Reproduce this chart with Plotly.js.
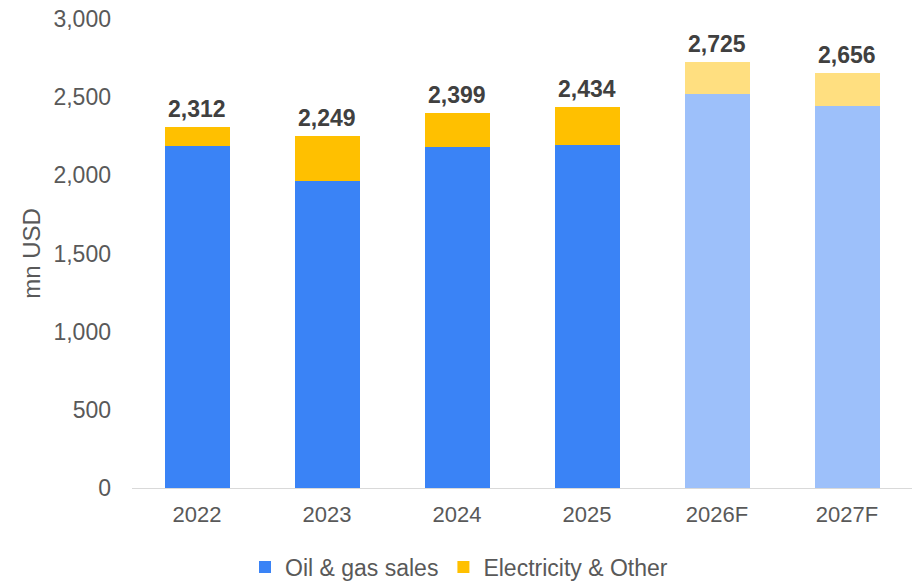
<!DOCTYPE html>
<html>
<head>
<meta charset="utf-8">
<script src="https://cdn.plot.ly/plotly-3.0.1.min.js"></script>
<style>html,body{margin:0;padding:0;background:#fff;}#chart{width:918px;height:581px;}</style>
</head>
<body>
<div id="chart"></div>
<script>
const categories = ["2022", "2023", "2024", "2025", "2026F", "2027F"];
const oilGas = [2190, 1963, 2183, 2193, 2521, 2446];
const electricity = [122, 286, 216, 241, 204, 210];
const totals = [2312, 2249, 2399, 2434, 2725, 2656];
const isForecast = [false, false, false, false, true, true];
const yTicks = [0, 500, 1000, 1500, 2000, 2500, 3000];

const blue = "#3A83F6", blueLight = "#9DC0FA";
const yellow = "#FFC000", yellowLight = "#FFDF80";

const font = "Liberation Sans, Arial, sans-serif";

const traces = [
  {
    type: "bar", name: "Oil & gas sales", x: categories, y: oilGas,
    marker: {color: isForecast.map(f => f ? blueLight : blue)},
    hoverinfo: "x+y+name"
  },
  {
    type: "bar", name: "Electricity & Other", x: categories, y: electricity,
    marker: {color: isForecast.map(f => f ? yellowLight : yellow)},
    hoverinfo: "x+y+name"
  }
];

// category axis: annotations positioned by category index
const annotations = categories.map((c, i) => ({
  x: i, y: totals[i], xref: "x", yref: "y",
  text: totals[i].toLocaleString("en-US"),
  showarrow: false, yanchor: "bottom", yshift: 3,
  font: {family: font, size: 23, color: "#404040", weight: "bold"}
}));

const layout = {
  width: 918, height: 581,
  paper_bgcolor: "#fff", plot_bgcolor: "#fff",
  margin: {l: 132, r: 6, t: 19, b: 93},
  barmode: "stack", bargap: 0.5,
  font: {family: font, color: "#595959", size: 22},
  showlegend: true,
  legend: {
    orientation: "h", xref: "container", x: 0.5, xanchor: "center",
    yref: "container", y: 0.024, yanchor: "middle",
    font: {family: font, size: 23, color: "#595959"},
    traceorder: "normal", itemwidth: 30
  },
  annotations: annotations,
  xaxis: {
    type: "category", categoryorder: "array", categoryarray: categories,
    range: [-0.5, categories.length - 0.5],
    showgrid: false, zeroline: false,
    showline: true, linecolor: "#D9D9D9", linewidth: 1,
    ticks: "", ticklabelstandoff: 7,
    tickfont: {family: font, size: 22, color: "#595959"}
  },
  yaxis: {
    range: [0, 3000], tickvals: yTicks,
    tickformat: ",d", showgrid: false, zeroline: false, showline: false,
    ticks: "", ticklabelstandoff: 20,
    tickfont: {family: font, size: 23, color: "#595959"},
    title: {text: "mn USD", font: {family: font, size: 24, color: "#595959"}, standoff: 6}
  }
};

Plotly.newPlot("chart", traces, layout, {displayModeBar: false, responsive: false});
</script>
</body>
</html>
